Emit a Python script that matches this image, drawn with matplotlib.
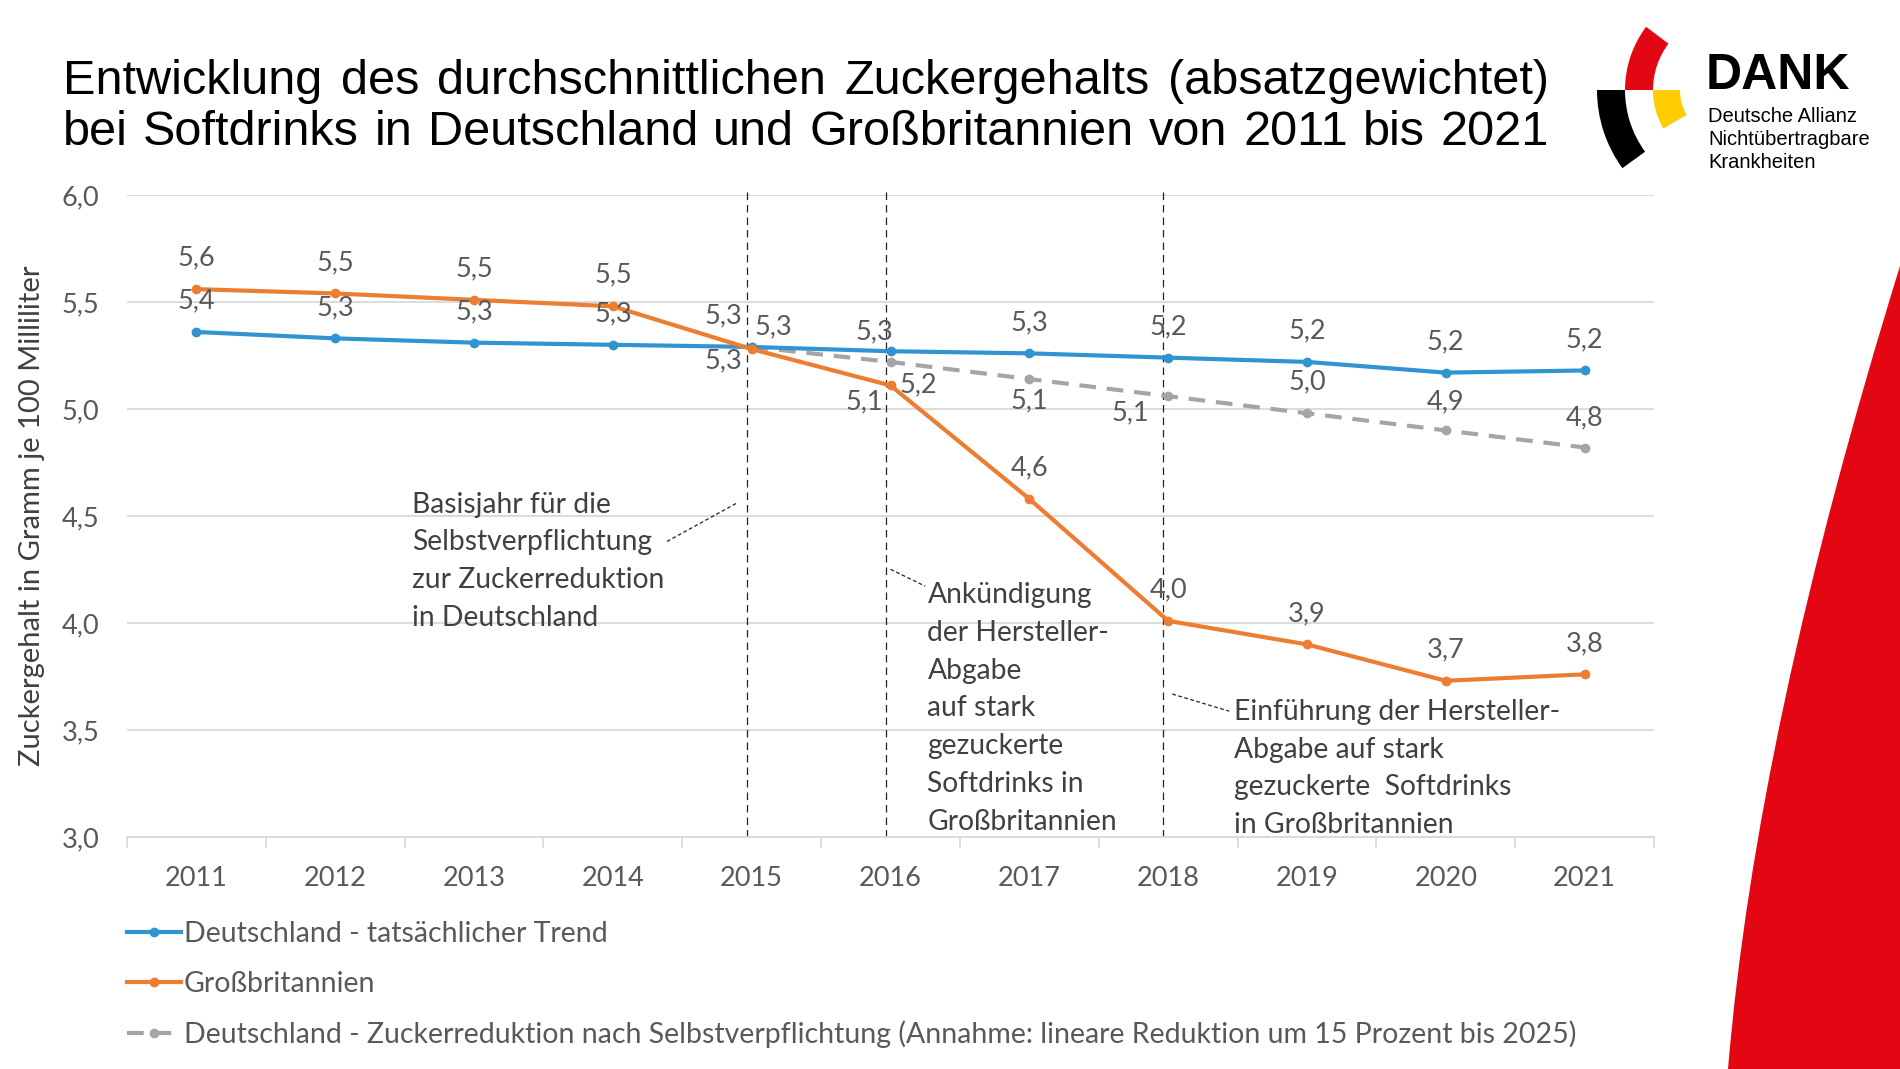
import numpy as np
import matplotlib
matplotlib.use("Agg")
import matplotlib.pyplot as plt
from matplotlib.patches import Wedge, PathPatch
from matplotlib.path import Path

# data (g sugar per 100 ml)
years = [2011, 2012, 2013, 2014, 2015, 2016, 2017, 2018, 2019, 2020, 2021]
de_actual = [5.36, 5.33, 5.31, 5.30, 5.29, 5.27, 5.26, 5.24, 5.22, 5.17, 5.18]
uk = [5.56, 5.54, 5.51, 5.48, 5.28, 5.11, 4.58, 4.01, 3.90, 3.73, 3.76]
de_target = [np.nan, np.nan, np.nan, np.nan, 5.29, 5.22, 5.14, 5.06, 4.98, 4.90, 4.82]
event_years = [2015, 2016, 2018]

series_names = [
    "Deutschland - tatsächlicher Trend",
    "Großbritannien",
    "Deutschland - Zuckerreduktion nach Selbstverpflichtung (Annahme: lineare Reduktion um 15 Prozent bis 2025)",
]
title_lines = [
    "Entwicklung des durchschnittlichen Zuckergehalts (absatzgewichtet)",
    "bei Softdrinks in Deutschland und Großbritannien von 2011 bis 2021",
]

W, H = 1900, 1069
TEXT = "#595959"
GRID = "#D9D9D9"
BLUE = "#3193CF"
ORANGE = "#ED7D31"
GREY = "#A5A5A5"
RED = "#E30613"
FONT = ["Lato", "DejaVu Sans"]

plt.rcParams["font.family"] = FONT

fig = plt.figure(figsize=(W / 100, H / 100), dpi=100)
ax = fig.add_axes([127 / W, 1 - 837 / H, (1654 - 127) / W, (837 - 195) / H])

# label offsets in pixels (dx, dy), dy positive = up
off_up = (0, 31)
blue_off = [off_up] * 11
blue_off[4] = (22, 20)
blue_off[5] = (-16, 19)
orange_off = [off_up] * 11
orange_off[4] = (-28, 33)
orange_off[5] = (-26, -16)
grey_off = [None] * 4 + [(-28, -14), (28, -23), (0, -22), (-38, -17), off_up, (0, 29), (0, 30)]

lw = 3
l1, = ax.plot(years, de_actual, color=BLUE, lw=lw, marker="o", ms=6, zorder=4)
l2, = ax.plot(years, uk, color=ORANGE, lw=lw, marker="o", ms=6, zorder=5)
l3, = ax.plot(years, de_target, color=GREY, lw=lw, marker="o", ms=6,
              dashes=(4, 2.6), zorder=3)


def labels(vals, offs):
    for x, v, o in zip(years, vals, offs):
        if o is None or np.isnan(v):
            continue
        ax.annotate(f"{v:.1f}".replace(".", ","), (x, v),
                    xytext=(o[0] * 0.72, o[1] * 0.72), textcoords="offset points",
                    ha="center", va="center", fontsize=19.5, color=TEXT, zorder=6)


labels(de_actual, blue_off)
labels(uk, orange_off)
labels(de_target, grey_off)

# event lines
ax.vlines([y - 0.035 for y in event_years], 3.0, 6.025, colors="#222222", lw=0.9,
          linestyles=(0, (6, 4)), zorder=2, clip_on=False)

notes = [
    ("Basisjahr für die\nSelbstverpflichtung\nzur Zuckerreduktion\nin Deutschland",
     (2012.555, 4.614), (2014.39, 4.381), (2014.9, 4.563)),
    ("Ankündigung\nder Hersteller-\nAbgabe\nauf stark\ngezuckerte\nSoftdrinks in\nGroßbritannien",
     (2016.266, 4.191), (2016.0, 4.251), (2016.25, 4.172)),
    ("Einführung der Hersteller-\nAbgabe auf stark\ngezuckerte  Softdrinks\nin Großbritannien",
     (2018.476, 3.645), (2018.03, 3.668), (2018.44, 3.588)),
]
for txt, pos, a, b in notes:
    ax.text(pos[0], pos[1], txt, ha="left", va="top", fontsize=20.3, color="#404040",
            linespacing=1.56, zorder=6)
    ax.plot([a[0], b[0]], [a[1], b[1]], color="#222222", lw=0.9,
            linestyle=(0, (3, 2)), zorder=2)

ax.set_xlim(2010.5, 2021.5)
ax.set_ylim(3.0, 6.0)
ax.set_xticks(years)
ax.set_xticklabels([str(y) for y in years])
ax.set_xticks(np.arange(2010.5, 2022, 1), minor=True)
ax.set_yticks(np.arange(3.0, 6.01, 0.5))
ax.set_yticklabels([f"{v:.1f}".replace(".", ",") for v in np.arange(3.0, 6.01, 0.5)])
ax.tick_params(axis="x", which="major", length=0, pad=21, labelsize=19.5, labelcolor=TEXT)
ax.tick_params(axis="x", which="minor", length=8, width=1.2, color=GRID)
ax.tick_params(axis="y", length=0, pad=20, labelsize=19.5, labelcolor=TEXT)
ax.grid(axis="y", color=GRID, lw=1.3)
ax.set_axisbelow(True)
for s in ["top", "right", "left"]:
    ax.spines[s].set_visible(False)
ax.spines["bottom"].set_color(GRID)
ax.spines["bottom"].set_linewidth(1.3)
ax.set_ylabel("Zuckergehalt in Gramm je 100 Milliliter", fontsize=21, color="#404040")
ax.yaxis.set_label_coords(-0.0537, 0.5)

fig.legend([l1, l2, l3], series_names, loc="upper left",
           bbox_to_anchor=(127 / W, 1 - 921 / H), frameon=False, borderpad=0,
           borderaxespad=0, handlelength=1.9, handletextpad=0.1, labelspacing=0.83,
           fontsize=20.5, labelcolor=TEXT)

# overlay for title, logo and decoration (pixel coords)
ov = fig.add_axes([0, 0, 1, 1])
ov.set_xlim(0, W)
ov.set_ylim(H, 0)
ov.axis("off")
ov.patch.set_alpha(0)

red_path = Path([(1900, 266), (1756, 731), (1728, 1069), (1900, 1069), (1900, 266)],
                [Path.MOVETO, Path.CURVE3, Path.CURVE3, Path.LINETO, Path.CLOSEPOLY])
ov.add_patch(PathPatch(red_path, facecolor=RED, edgecolor="none"))

cx, cy = 1730, 90
ov.add_patch(Wedge((cx, cy), 105, 180, 217, width=28, facecolor=RED, edgecolor="none"))
ov.add_patch(Wedge((cx, cy), 133, 144, 180, width=28, facecolor="black", edgecolor="none"))
ov.add_patch(Wedge((cx, cy), 77, 150, 180, width=27, facecolor="#FFCC00", edgecolor="none"))

logo_font = ["Liberation Sans"]
ov.text(1706, 89, "DANK", fontsize=36, fontweight="bold", family=logo_font, va="baseline")
for i, t in enumerate(["Deutsche Allianz", "Nichtübertragbare", "Krankheiten"]):
    ov.text(1708, 122 + i * 23, t, fontsize=14.5, family=logo_font, va="baseline")

# justified title, font size fitted so the first line fills the width
renderer = fig.canvas.get_renderer()
x0, x1 = 63, 1549
probe = ov.text(0, 0, title_lines[0], fontsize=38, family=["Liberation Sans"])
title_size = 0.985 * 38 * (x1 - x0) / probe.get_window_extent(renderer).width
probe.remove()
for line, base in zip(title_lines, [94, 145]):
    words = line.split(" ")
    ts = [ov.text(0, base, w, fontsize=title_size, family=["Liberation Sans"], va="baseline")
          for w in words]
    ws = [t.get_window_extent(renderer).width for t in ts]
    gap = (x1 - x0 - sum(ws)) / (len(words) - 1)
    x = x0
    for t, w in zip(ts, ws):
        t.set_x(x)
        x += w + gap

fig.savefig("out.png", dpi=100)
